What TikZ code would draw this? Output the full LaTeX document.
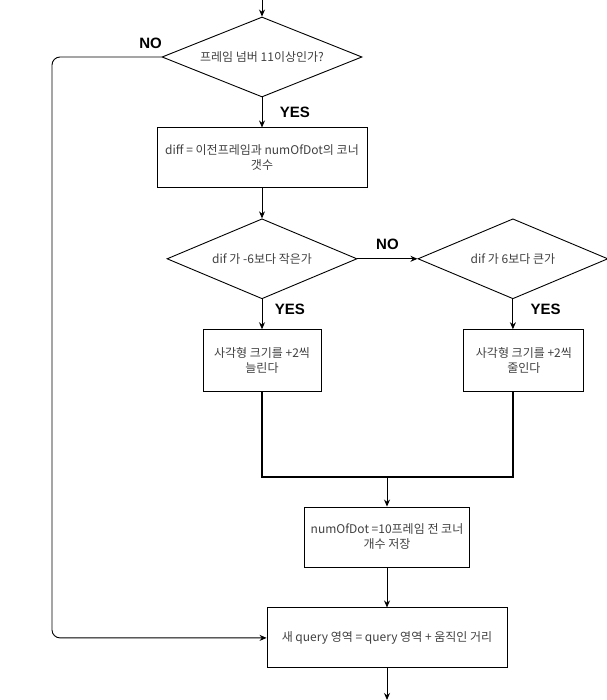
\documentclass[tikz,border=0pt]{standalone}
\usepackage{fontspec}
\setmainfont{Noto Sans CJK KR}
\newfontfamily\labelfont{Liberation Sans}
\usetikzlibrary{shapes.geometric,arrows.meta,positioning}

\begin{document}
\begin{tikzpicture}
[x=1pt, y=-1pt,
 every node/.style = {align=center, font=\fontsize{12}{15}\selectfont, text=black!75},
 decision/.style = {diamond, draw, line width=0.9pt, inner sep=0pt, aspect=2.5,
	minimum width=200pt, minimum height=80pt},
 process/.style = {rectangle, draw, line width=0.9pt, inner xsep=2pt,
	minimum height=60pt},
 flow/.style = {draw, line width=0.9pt, -{Stealth[length=7pt,width=6pt]}},
 merge/.style = {draw, line width=2.2pt},
 yesno/.style = {font=\labelfont\bfseries\fontsize{15}{15}\selectfont, text=black}]
  \useasboundingbox (0,0) rectangle (606,700);

  % nodes
  \node[decision] (frame) at (262,57) {프레임 넘버 11이상인가?};
  \node[process, minimum width=210pt, below=30pt of frame] (diff)
  	{diff = 이전프레임과 numOfDot의 코너\\갯수};
  \node[decision, minimum width=190pt, below=30pt of diff] (less) {dif 가 -6보다 작은가};
  \node[decision, minimum width=190pt, right=60pt of less] (more) {dif 가 6보다 큰가};
  \node[process, minimum width=118pt, minimum height=62pt, below=30pt of less] (grow)
  	{사각형 크기를 +2씩\\늘린다};
  \node[process, minimum width=120pt, minimum height=62pt, below=30pt of more, xshift=11pt] (shrink)
  	{사각형 크기를 +2씩\\줄인다};
  \coordinate (join) at (387,477);
  \node[process, minimum width=165pt] (store) at (387,537)
  	{numOfDot =10프레임 전 코너\\개수 저장};
  \node[process, minimum width=240pt, below=40pt of store] (query)
  	{새 query 영역 = query 영역 + 움직인 거리};
  \coordinate (entry) at (262,0);
  \coordinate (exit) at (387,700);
  \coordinate (loop) at (52,0);

  % connectors
  \draw[flow] (entry) -- (frame.north);
  \draw[flow] (frame.south) -- node[yesno, right=14pt] {YES} (diff.north);
  \draw[flow, rounded corners=8pt] (frame.west) -- node[yesno, pos=0.1, above=5pt] {NO}
  	(frame.west -| loop) -- (query.west -| loop) -- (query.west);
  \draw[flow] (diff.south) -- (less.north);
  \draw[flow] (less.east) -- node[yesno, above=5pt] {NO} (more.west);
  \draw[flow] (less.south) -- node[yesno, right=9pt, yshift=5pt] {YES} (grow.north);
  \draw[flow] (more.south) -- node[yesno, right=14pt, yshift=5pt] {YES} (more.south |- shrink.north);
  \draw[merge] (grow.south) |- (join) -| (more.south |- shrink.south);
  \draw[flow] (join) -- (store.north);
  \draw[flow] (store.south) -- (query.north);
  \draw[flow] (query.south) -- (exit);
\end{tikzpicture}
\end{document}
